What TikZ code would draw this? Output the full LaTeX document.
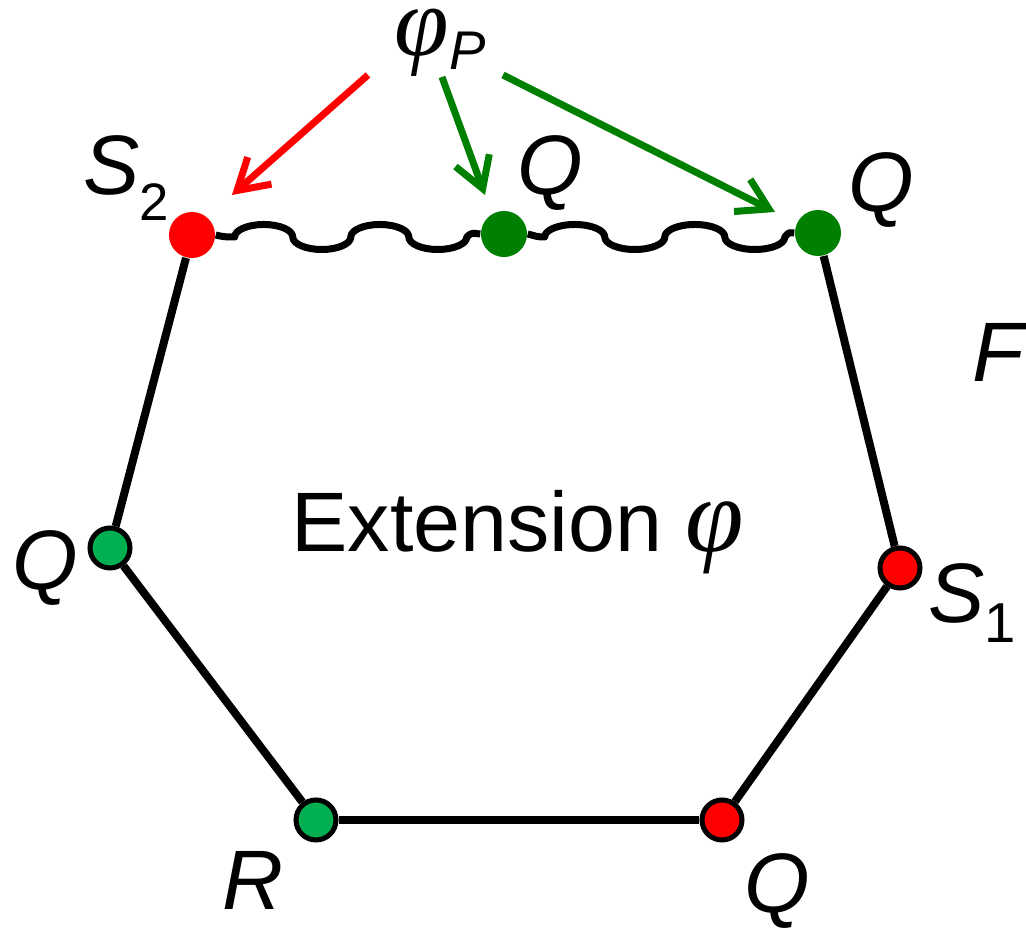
\documentclass[tikz,border=0pt]{standalone}
\usepackage{fontspec}
\setmainfont{Liberation Sans}
\newfontfamily\phifont{Liberation Serif}
\usetikzlibrary{arrows.meta}
\definecolor{dgreen}{RGB}{0,128,0}
\definecolor{lgreen}{RGB}{0,176,80}
\definecolor{pred}{RGB}{255,0,0}
\begin{document}
\begin{tikzpicture}[x=0.01cm,y=-0.01cm,
  edge/.style={line width=0.08cm},
  topdot/.style={circle, inner sep=0, minimum size=0.46cm},
  bdot/.style={circle, inner sep=0, minimum size=0.40cm, draw=black, line width=0.05cm},
  lbl/.style={inner sep=0, font=\fontsize{24}{28}\selectfont\itshape},
  wavy/.style={line width=0.07cm, line join=round},
  arr/.style={line width=0.07cm, -{Straight Barb[length=0.3cm,width=0.36cm]}}]
\useasboundingbox (0,0) rectangle (1026,928);
% dots
\node[topdot, fill=pred] (s2) at (192,235) {};
\node[topdot, fill=dgreen] (qm) at (504,234) {};
\node[topdot, fill=dgreen] (qr) at (818,233) {};
\node[bdot, fill=lgreen] (ql) at (110,548) {};
\node[bdot, fill=lgreen] (r) at (316,820) {};
\node[bdot, fill=pred] (qb) at (722,820) {};
\node[bdot, fill=pred] (s1) at (900,568) {};
% polygon edges
\draw[edge] (s2) -- (ql);
\draw[edge] (ql) -- (r);
\draw[edge] (r) -- (qb);
\draw[edge] (qb) -- (s1);
\draw[edge] (s1) -- (qr);
% wavy top
\draw[wavy] (s2.east) .. controls +(8,2) and +(-8,0) .. ++(19,2)
  arc[start angle=180, end angle=0, x radius=0.29cm, y radius=0.125cm]
  arc[start angle=180, end angle=360, x radius=0.29cm, y radius=0.125cm]
  arc[start angle=180, end angle=0, x radius=0.29cm, y radius=0.125cm]
  arc[start angle=180, end angle=360, x radius=0.29cm, y radius=0.125cm]
  .. controls +(6,-6) and +(-6,0) .. (qm.west);
\draw[wavy] (qm.east) .. controls +(8,2) and +(-8,0) .. ++(17,3)
  arc[start angle=180, end angle=0, x radius=0.30cm, y radius=0.125cm]
  arc[start angle=180, end angle=360, x radius=0.30cm, y radius=0.125cm]
  arc[start angle=180, end angle=0, x radius=0.30cm, y radius=0.125cm]
  arc[start angle=180, end angle=360, x radius=0.30cm, y radius=0.125cm]
  .. controls +(5,-6) and +(-5,0) .. (qr.west);
% labels
\node[inner sep=0, anchor=base west] (phip) at (394,56) {{\fontsize{28}{28}\selectfont\phifont\itshape φ}\raisebox{-0.14cm}{\fontsize{15.5}{15.5}\selectfont\itshape P}};
\node[lbl, anchor=base west] (lS2) at (83,195) {S\raisebox{-0.25cm}{\fontsize{15}{15}\selectfont\upshape 2}};
\node[lbl, anchor=base west] (lqm) at (517,195) {Q};
\node[lbl, anchor=base west] (lqr) at (848,212) {Q};
\node[lbl, anchor=base west] (lql) at (12,590) {Q};
\node[lbl, anchor=base west] (lS1) at (928,623) {S\raisebox{-0.2cm}{\fontsize{16}{16}\selectfont\upshape 1}};
\node[lbl, anchor=base west] (lR) at (222,910) {R};
\node[lbl, anchor=base west] (lqb) at (744,913) {Q};
\node[lbl, anchor=base west] (lF) at (972,382) {F};
\node[inner sep=0, anchor=base west, font=\fontsize{24}{28}\selectfont] (ext) at (291,552) {Extension {\fontsize{30}{30}\selectfont\phifont\itshape φ}};
% arrows
\coordinate (a1s) at (368,75); \coordinate (a1e) at (232,195);
\coordinate (a2s) at (442,77); \coordinate (a2e) at (485,195);
\coordinate (a3s) at (503,75); \coordinate (a3e) at (775,212);
\draw[arr, pred] (a1s) -- (a1e);
\draw[arr, dgreen] (a2s) -- (a2e);
\draw[arr, dgreen] (a3s) -- (a3e);
\end{tikzpicture}
\end{document}
